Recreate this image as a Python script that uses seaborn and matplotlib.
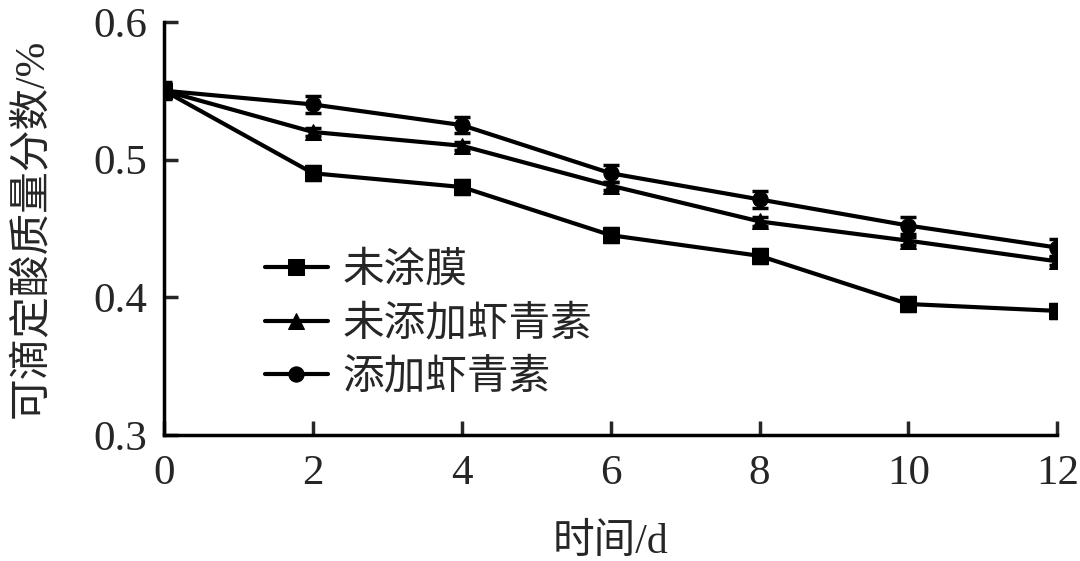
import pandas as pd
import matplotlib
matplotlib.use('Agg')
import matplotlib.pyplot as plt
import seaborn as sns

# data
days = [0, 2, 4, 6, 8, 10, 12]
uncoated = [0.55, 0.49, 0.48, 0.445, 0.43, 0.395, 0.39]
uncoated_err = [0.005, 0.005, 0.005, 0.005, 0.005, 0.005, 0.005]
no_astax = [0.55, 0.52, 0.51, 0.481, 0.455, 0.441, 0.426]
no_astax_err = [0.003, 0.003, 0.003, 0.003, 0.003, 0.003, 0.003]
astax = [0.55, 0.54, 0.525, 0.49, 0.471, 0.452, 0.436]
astax_err = [0.006, 0.006, 0.006, 0.006, 0.006, 0.006, 0.006]
names = ['未涂膜', '未添加虾青素', '添加虾青素']

sns.set_style('ticks')
plt.rcParams['font.family'] = ['Liberation Serif', 'Noto Sans CJK SC']
plt.rcParams['axes.unicode_minus'] = False

df = pd.DataFrame({
    'day': days * 3,
    'value': uncoated + no_astax + astax,
    'group': [names[0]] * 7 + [names[1]] * 7 + [names[2]] * 7,
})

fig = plt.figure(figsize=(10.8, 5.61), dpi=100)
ax = fig.add_axes([0.152, 0.225, 0.827, 0.736])

sns.lineplot(data=df, x='day', y='value', hue='group', style='group',
             markers={names[0]: 's', names[1]: '^', names[2]: 'o'},
             dashes=False, palette=['black'] * 3, linewidth=3,
             markersize=11, markeredgecolor='black', ax=ax)

for vals, errs in [(uncoated, uncoated_err), (no_astax, no_astax_err), (astax, astax_err)]:
    ax.errorbar(days, vals, yerr=errs, fmt='none', ecolor='black',
                elinewidth=2, capsize=6, capthick=2.5)

ax.set_xlim(0, 12)
ax.set_ylim(0.3, 0.6)
ax.set_xticks(days)
ax.set_yticks([0.3, 0.4, 0.5, 0.6])
ax.set_yticklabels(['0.3', '0.4', '0.5', '0.6'])
ax.tick_params(direction='in', length=10, width=2.5, labelsize=31)
ax.tick_params(axis='x', pad=14)
ax.tick_params(axis='y', pad=12)
for s in ['top', 'right']:
    ax.spines[s].set_visible(False)
for s in ['left', 'bottom']:
    ax.spines[s].set_linewidth(2.5)
    ax.spines[s].set_color('black')

ax.set_xlabel('时间/d', fontsize=30, labelpad=22)
ax.set_ylabel('可滴定酸质量分数/%', fontsize=30, labelpad=30)

leg = ax.legend(loc='upper left', bbox_to_anchor=(0.113, 0.448), frameon=False,
                fontsize=30, handlelength=1.5, labelspacing=0.3,
                handletextpad=0.35, borderaxespad=0, borderpad=0)
for t in leg.get_texts():
    t.set_family(['Noto Sans CJK SC'])

fig.savefig('out.png', dpi=100)
